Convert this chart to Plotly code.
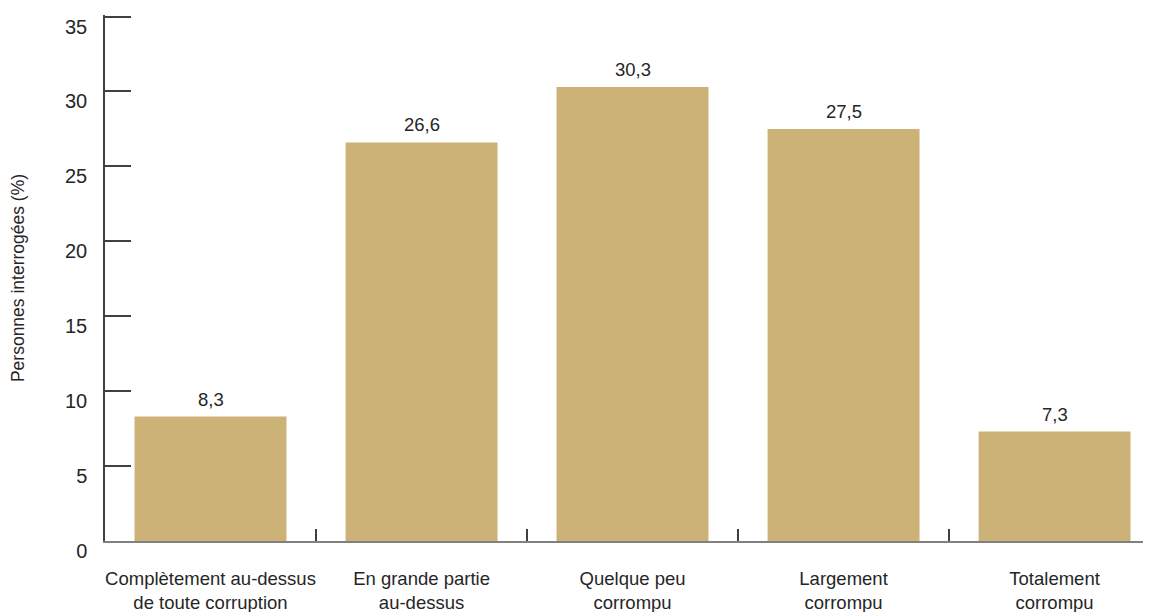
import plotly.graph_objects as go

categories = [
    "Complètement au-dessus<br>de toute corruption",
    "En grande partie<br>au-dessus",
    "Quelque peu<br>corrompu",
    "Largement<br>corrompu",
    "Totalement<br>corrompu",
]
values = [8.3, 26.6, 30.3, 27.5, 7.3]
y_ticks = [0, 5, 10, 15, 20, 25, 30, 35]
y_title = "Personnes interrogées (%)"

bar_color = "#CDB277"
text_color = "#262626"
font_family = "Liberation Sans, Arial, sans-serif"

x_idx = list(range(len(categories)))

fig = go.Figure()
fig.add_trace(go.Bar(
    x=x_idx,
    y=values,
    marker=dict(color=bar_color, line=dict(width=0)),
    width=0.72,
    hoverinfo="skip",
))

for i, v in zip(x_idx, values):
    fig.add_annotation(
        x=i, y=v, xref="x", yref="y",
        text=f"{v:.1f}".replace(".", ","),
        showarrow=False, yanchor="bottom", yshift=5,
        font=dict(size=18.5, color=text_color, family=font_family),
    )

# page body has an 8px margin, so the figure is sized/offset accordingly
fig.update_layout(
    width=1143, height=604,
    margin=dict(l=97, r=0, t=7, b=71),
    paper_bgcolor="white", plot_bgcolor="white",
    showlegend=False,
    font=dict(family=font_family, color=text_color),
)

fig.update_xaxes(
    range=[-0.5, 4.457],
    tickmode="array",
    tickvals=x_idx,
    ticktext=categories,
    ticks="",
    showgrid=False,
    zeroline=False,
    showline=True,
    linecolor="#808080",
    linewidth=1.5,
    automargin=False,
    tickfont=dict(size=18.5, color=text_color, family=font_family),
    ticklabelstandoff=20,
    minor=dict(tickmode="array", tickvals=[i + 0.5 for i in x_idx[:-1]],
               ticks="inside", ticklen=12, tickcolor="#404040", tickwidth=1.5),
)

fig.update_yaxes(
    range=[0, 35.1],
    tickmode="array",
    tickvals=y_ticks,
    ticktext=[str(t) for t in y_ticks],
    ticks="inside",
    ticklen=26,
    tickcolor="#404040",
    tickwidth=1.5,
    showgrid=False,
    zeroline=False,
    showline=True,
    linecolor="#404040",
    linewidth=1.5,
    automargin=False,
    tickfont=dict(size=20, color=text_color, family=font_family),
    ticklabelstandoff=12,
    ticklabelshift=10,
    title=dict(text=y_title, font=dict(size=17.5, color=text_color, family=font_family), standoff=40),
)

fig.write_html("out.html")
